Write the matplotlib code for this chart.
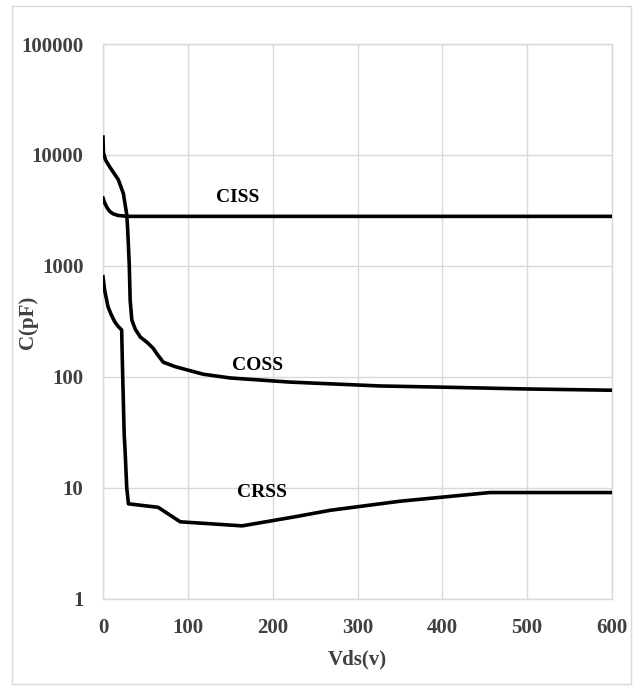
import matplotlib
matplotlib.use("Agg")
import matplotlib.pyplot as plt
from matplotlib.patches import Rectangle

# Data
ciss_v = [0, 2, 5, 8, 12, 18, 30, 100, 200, 300, 400, 500, 600]
ciss_c = [4100, 3700, 3330, 3100, 2950, 2850, 2800, 2800, 2800, 2800, 2800, 2800, 2800]

coss_v = [0, 0.5, 3, 8, 18, 24, 28, 29, 30, 31, 32, 34, 38, 44, 52, 59, 63, 71, 85, 99, 118, 150, 220, 327, 400, 500, 600]
coss_c = [14500, 10500, 9000, 7800, 6000, 4500, 2900, 2200, 1500, 1000, 494, 325, 270, 229, 205, 182, 164, 136, 124, 116, 106, 98, 90, 83, 81, 78, 76]

crss_v = [0, 2, 6, 10, 14, 18, 22, 23, 24, 25, 26, 28, 30, 65, 91, 164, 226, 268, 350, 456, 500, 600]
crss_c = [800, 600, 427, 360, 313, 285, 265, 120, 60, 30, 22, 10, 7.2, 6.7, 4.96, 4.56, 5.5, 6.3, 7.6, 9.1, 9.1, 9.1]

xticks = [0, 100, 200, 300, 400, 500, 600]
yticks = [1, 10, 100, 1000, 10000, 100000]
ytick_labels = ["1", "10", "100", "1000", "10000", "100000"]

series_labels = ["CISS", "COSS", "CRSS"]
label_pos = [(159, 4180), (182, 128), (187, 9.2)]

plt.rcParams["font.family"] = ["Liberation Serif", "DejaVu Serif"]

fig = plt.figure(figsize=(6.41, 6.90), dpi=100)
fig.patches.append(Rectangle((12 / 641, 1 - 684 / 690), 619 / 641, 678 / 690,
                             transform=fig.transFigure, fill=False,
                             edgecolor="#d9d9d9", linewidth=1.0))
ax = fig.add_axes([103 / 641, 1 - 599 / 690, 509 / 641, 555 / 690])

for v, c in [(ciss_v, ciss_c), (coss_v, coss_c), (crss_v, crss_c)]:
    ax.plot(v, c, color="black", linewidth=2.6, solid_joinstyle="round", zorder=3)

ax.set_yscale("log")
ax.set_xlim(0, 600)
ax.set_ylim(1, 100000)
ax.set_xticks(xticks)
ax.set_xticklabels([str(t) for t in xticks])
ax.set_yticks(yticks)
ax.set_yticklabels(ytick_labels)
ax.minorticks_off()
ax.grid(True, color="#d9d9d9", linewidth=1.0)
ax.set_axisbelow(True)
for s in ax.spines.values():
    s.set_color("#d9d9d9")
    s.set_linewidth(1.0)
ax.tick_params(axis="x", length=0, labelsize=15, labelcolor="#404040", pad=14)
ax.tick_params(axis="y", length=0, labelsize=15, labelcolor="#404040", pad=14)
for lab in ax.get_xticklabels() + ax.get_yticklabels():
    lab.set_fontweight("bold")

ax.set_xlabel("Vds(v)", fontsize=15, fontweight="bold", color="#404040")
ax.set_ylabel("C(pF)", fontsize=15, fontweight="bold", color="#404040")
ax.xaxis.set_label_coords(0.5, -(649 - 599) / 555)
ax.yaxis.set_label_coords(-(103 - 38) / 509, (599 - 322) / 555)

for name, (x, y) in zip(series_labels, label_pos):
    ax.text(x, y, name, fontsize=14, fontweight="bold", color="black",
            ha="center", va="center")

fig.savefig("out.png", dpi=100)
